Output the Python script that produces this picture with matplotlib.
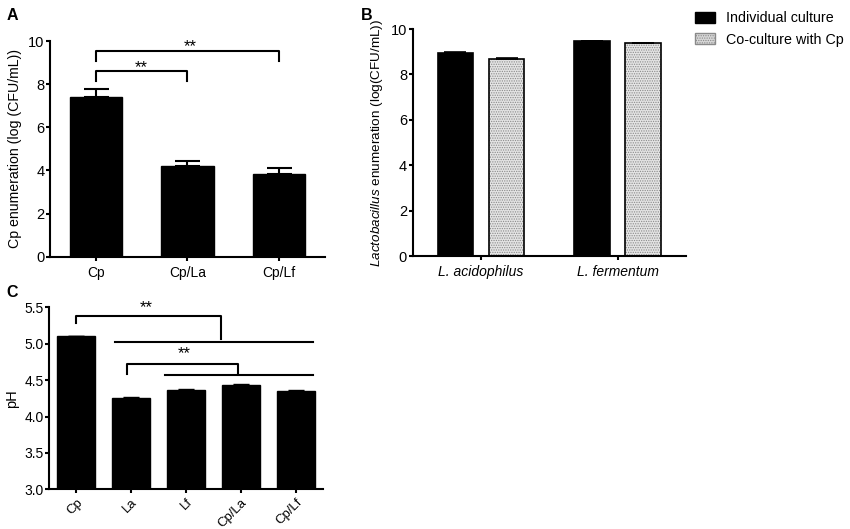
import numpy as np
import matplotlib
matplotlib.use('Agg')
import matplotlib.pyplot as plt
from matplotlib.patches import Patch

plt.rcParams['font.family'] = ['Liberation Sans', 'DejaVu Sans']
plt.rcParams['mathtext.fontset'] = 'custom'
plt.rcParams['mathtext.rm'] = 'Liberation Sans'
plt.rcParams['mathtext.it'] = 'Liberation Sans:italic'
plt.rcParams['font.size'] = 10
plt.rcParams['axes.linewidth'] = 1.5
plt.rcParams['xtick.major.width'] = 1.5
plt.rcParams['ytick.major.width'] = 1.5
plt.rcParams['xtick.major.size'] = 3
plt.rcParams['ytick.major.size'] = 3
plt.rcParams['hatch.linewidth'] = 0.6

# panel A data
a_labels = ['Cp', 'Cp/La', 'Cp/Lf']
a_vals = [7.41, 4.20, 3.84]
a_err = [0.35, 0.24, 0.28]

# panel B data
b_labels = ['L. acidophilus', 'L. fermentum']
b_indiv = [8.93, 9.46]
b_indiv_err = [0.07, 0.03]
b_co = [8.69, 9.38]
b_co_err = [0.04, 0.02]

# panel C data
c_labels = ['Cp', 'La', 'Lf', 'Cp/La', 'Cp/Lf']
c_vals = [5.10, 4.26, 4.37, 4.44, 4.355]
c_err = [0.008, 0.008, 0.008, 0.008, 0.008]

fig = plt.figure(figsize=(8.5, 5.29), dpi=100)

def style(ax, ysize=10.5, xsize=10):
    ax.spines['top'].set_visible(False)
    ax.spines['right'].set_visible(False)
    ax.tick_params(axis='y', labelsize=ysize, pad=1)
    ax.tick_params(axis='x', labelsize=xsize)

def bracket(ax, x1, x2, y, d1, d2, lw=1.5):
    ax.plot([x1, x1, x2, x2], [d1, y, y, d2], color='black', lw=lw, clip_on=False)

# ---- A ----
axA = fig.add_axes([0.0588, 0.515, 0.3235, 0.407])
xa = np.arange(len(a_labels))
axA.bar(xa, a_vals, width=0.57, color='black', edgecolor='black')
axA.errorbar(xa, a_vals, yerr=[np.zeros(3), a_err], fmt='none', ecolor='black',
             elinewidth=1.5, capsize=9, capthick=1.5)
axA.set_xlim(-0.5, 2.5)
axA.set_ylim(0, 10)
axA.set_yticks([0, 2, 4, 6, 8, 10])
axA.set_xticks(xa)
axA.set_xticklabels(a_labels)
axA.set_ylabel('Cp enumeration (log (CFU/mL))', fontsize=10.2, labelpad=4)
style(axA)
bracket(axA, 0, 1, 8.6, 8.15, 8.15)
bracket(axA, 0, 2, 9.55, 9.07, 9.07)
axA.text(0.5, 8.78, '**', ha='center', va='center', fontsize=12)
axA.text(1.03, 9.75, '**', ha='center', va='center', fontsize=12)
fig.text(0.008, 0.985, 'A', fontsize=11.5, fontweight='bold', va='top')

# ---- B ----
axB = fig.add_axes([0.4855, 0.516, 0.3215, 0.429])
xb = np.arange(len(b_labels))
off = 0.187
w = 0.26
axB.bar(xb - off, b_indiv, width=w, color='black', edgecolor='black', lw=1.2)
axB.bar(xb + off, b_co, width=w, color='#e4e4e4', edgecolor='#8a8a8a',
        hatch='.......', lw=0)
axB.bar(xb + off, b_co, width=w, fill=False, edgecolor='black', lw=1.2)
axB.errorbar(xb - off, b_indiv, yerr=[np.zeros(2), b_indiv_err], fmt='none',
             ecolor='black', elinewidth=1.2, capsize=8, capthick=1.2)
axB.errorbar(xb + off, b_co, yerr=[np.zeros(2), b_co_err], fmt='none',
             ecolor='black', elinewidth=1.2, capsize=8, capthick=1.2)
axB.set_xlim(-0.5, 1.5)
axB.set_ylim(0, 10)
axB.set_yticks([0, 2, 4, 6, 8, 10])
axB.set_xticks(xb)
axB.set_xticklabels(b_labels, fontstyle='italic')
axB.set_ylabel(r'$\it{Lactobacillus}$ enumeration (log(CFU/mL))', fontsize=9.7,
               labelpad=4)
style(axB)
fig.text(0.424, 0.985, 'B', fontsize=11.5, fontweight='bold', va='top')

handles = [Patch(facecolor='black', edgecolor='black', label='Individual culture'),
           Patch(facecolor='#d8d8d8', edgecolor='#8a8a8a', hatch='.......',
                 label='Co-culture with Cp')]
fig.legend(handles=handles, loc='upper left', bbox_to_anchor=(0.811, 0.99),
           frameon=False, fontsize=10.3, handlelength=1.4, handleheight=0.8,
           handletextpad=0.75, labelspacing=0.55, borderaxespad=0)

# ---- C ----
axC = fig.add_axes([0.0576, 0.075, 0.3227, 0.344])
xc = np.arange(len(c_labels))
axC.bar(xc, c_vals, width=0.69, color='black', edgecolor='black')
axC.errorbar(xc, c_vals, yerr=[np.zeros(5), c_err], fmt='none', ecolor='black',
             elinewidth=1.0, capsize=6, capthick=1.0)
axC.set_xlim(-0.5, 4.5)
axC.set_ylim(3.0, 5.5)
axC.set_yticks([3.0, 3.5, 4.0, 4.5, 5.0, 5.5])
axC.set_yticklabels(['3.0', '3.5', '4.0', '4.5', '5.0', '5.5'])
axC.set_xticks(xc)
axC.set_xticklabels(c_labels, rotation=45, ha='right', rotation_mode='anchor')
axC.set_ylabel('pH', fontsize=10.5)
style(axC, ysize=10, xsize=9.5)
axC.tick_params(axis='x', pad=2)
bracket(axC, 0, 2.63, 5.385, 5.28, 5.06)
axC.plot([0.70, 4.31], [5.03, 5.03], color='black', lw=1.5, clip_on=False)
bracket(axC, 0.93, 2.95, 4.72, 4.58, 4.59)
axC.plot([1.62, 4.31], [4.575, 4.575], color='black', lw=1.5, clip_on=False)
axC.text(1.28, 5.49, '**', ha='center', va='center', fontsize=12)
axC.text(1.96, 4.87, '**', ha='center', va='center', fontsize=12)
fig.text(0.008, 0.462, 'C', fontsize=11.5, fontweight='bold', va='top')

fig.savefig('out.png', dpi=100)
